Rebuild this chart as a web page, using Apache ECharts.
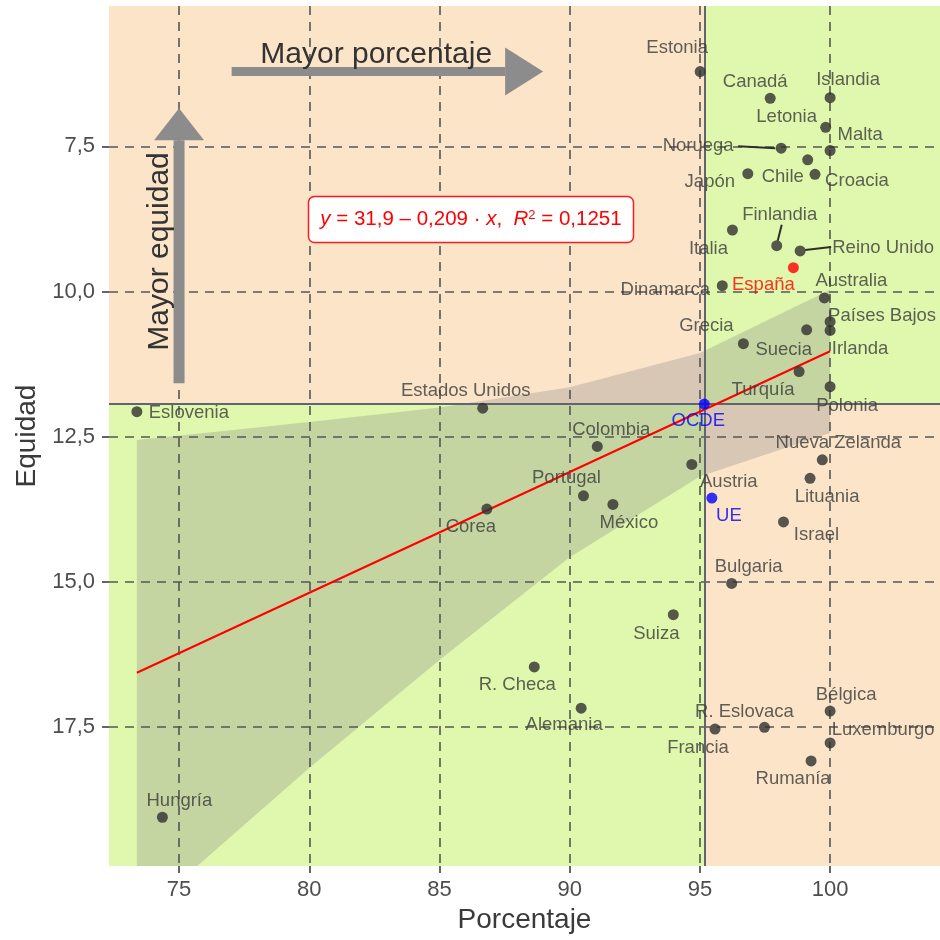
<!DOCTYPE html>
<html><head><meta charset="utf-8">
<script src="https://cdn.jsdelivr.net/npm/echarts@6/dist/echarts.min.js"></script>
<style>html,body{margin:0;padding:0;background:#fff}#c{width:940px;height:940px}</style>
</head><body><div id="c"></div>
<script>
// ---------- data ----------
const countries = ['Estonia','Canadá','Islandia','Letonia','Malta','Noruega','Chile','Croacia','Japón',
  'Finlandia','Italia','Reino Unido','España','Dinamarca','Australia','Países Bajos','Irlanda','Suecia',
  'Grecia','Turquía','Polonia','OCDE','Estados Unidos','Eslovenia','Colombia','Austria','Portugal',
  'México','Corea','UE','Nueva Zelanda','Lituania','Israel','Bulgaria','Suiza','R. Checa','Alemania',
  'R. Eslovaca','Francia','Bélgica','Luxemburgo','Rumanía','Hungría'];
const porcentaje = [95.01,97.70,100.0,99.83,100.0,98.12,99.14,99.42,96.84,
  97.95,96.25,98.85,98.59,95.86,99.78,100.0,100.0,99.10,
  96.67,98.81,100.0,95.17,86.66,73.38,91.06,94.69,90.53,
  91.66,86.82,95.46,99.70,99.23,98.21,96.22,93.98,88.64,90.44,
  97.48,95.58,100.0,100.0,99.27,74.36];
const equidad = [6.21,6.67,6.66,7.17,7.57,7.53,7.73,7.98,7.97,
  9.21,8.94,9.30,9.59,9.90,10.11,10.52,10.67,10.66,
  10.90,11.38,11.64,11.94,12.01,12.07,12.67,12.98,13.52,
  13.67,13.75,13.56,12.90,13.22,13.97,15.03,15.57,16.47,17.18,
  17.51,17.54,17.23,17.78,18.09,19.06];
const xTicks = [75,80,85,90,95,100];
const yTicks = [7.5,10,12.5,15,17.5];
// regression line
const regX = [73.38, 100];
const regY = [16.57, 11.03];
// confidence band
const bandX = [73.38, 75.7, 80, 85, 90, 95, 100];
const bandUpper = [12.56, 12.45, 12.25, 12.0, 11.65, 11.06, 9.97];
const bandLower = [20.6, 19.9, 18.21, 16.35, 14.58, 13.19, 12.44];
const refName = 'OCDE';
const equationText = '{i|y} = 31,9 – 0,209 · {i|x},  {i|R}{s|2} = 0,1251';
// ---------- style ----------
const X_MIN = 72.31, X_MAX = 104.22, Y_MIN = 5.08, Y_MAX = 19.9;
const labelOffsets = [[-23,-24],[-15,-16],[18,-18],[-39,-10],[30,-16],[-83,-2],[-25,17],[42,7],[-38,8],
  [3,-31],[-24,19],[83,-3],[-30,17],[-57,4],[27,-17],[52,-6],[30,19],[-23,20],
  [-37,-18],[-36,18],[17,19],[-6,17],[-17,-17],[52,1],[14,-17],[37,17],[-17,-18],
  [16,18],[-16,18],[17,18],[16,-17],[17,19],[33,13],[17,-16],[-17,19],[-17,18],[-17,17],
  [-20,-15],[-17,19],[16,-16],[53,-13],[-18,18],[17,-16]];
const specialColors = {'España':'#ff0000','OCDE':'#0000ff','UE':'#0000ff'};
const connectors = {'Noruega':[[-43,-2],[-6,0]],'Finlandia':[[5,-21],[1,-5]],'Reino Unido':[[5,-1],[31,-4]]};
const FONT = "'Liberation Sans', Arial, sans-serif";
const PEACH = '#fbe4c8', GREEN = '#dff8ad';
const SYM = 11;

const ocdeIdx = countries.indexOf(refName);
const ox = porcentaje[ocdeIdx], oy = equidad[ocdeIdx];

const chart = echarts.init(document.getElementById('c'), null, {renderer:'canvas'});

const points = countries.map((c,i)=>({
  name: c, value: [porcentaje[i], equidad[i]],
  itemStyle: {color: specialColors[c] || '#2f2f2f'},
  label: {show:true, formatter: c,
    position: [SYM/2 + labelOffsets[i][0], SYM/2 + labelOffsets[i][1]],
    color: specialColors[c] || '#3a3a3a', fontSize: 18.5, fontFamily: FONT,
    align:'center', verticalAlign:'middle'}
}));

const option = {
  animation: false,
  grid: {left:109, right:0, top:6, bottom:74, containLabel:false},
  xAxis: {
    type:'value', min:X_MIN, max:X_MAX,
    axisLine:{show:false}, splitLine:{show:false},
    axisTick:{show:true, customValues:xTicks, length:7, lineStyle:{color:'#333', width:1.5}},
    axisLabel:{customValues:xTicks, formatter:v=>String(v), fontSize:22, color:'#4d4d4d', fontFamily:FONT, margin:13},
    name:'Porcentaje', nameLocation:'middle', nameGap:38,
    nameTextStyle:{fontSize:28, color:'#3a3a3a', fontFamily:FONT}
  },
  yAxis: {
    type:'value', inverse:true, min:Y_MIN, max:Y_MAX,
    axisLine:{show:false}, splitLine:{show:false},
    axisTick:{show:true, customValues:yTicks, length:7, lineStyle:{color:'#333', width:1.5}},
    axisLabel:{customValues:yTicks, formatter:v=>v.toFixed(1).replace('.',','), fontSize:22, color:'#4d4d4d', fontFamily:FONT, margin:14},
    name:'Equidad', nameLocation:'middle', nameGap:68,
    nameTextStyle:{fontSize:28, color:'#3a3a3a', fontFamily:FONT}
  },
  series: [
    { type:'scatter', data:[], z:1, silent:true,
      markArea:{silent:true, data:[
        [{coord:[X_MIN,Y_MIN], itemStyle:{color:PEACH}}, {coord:[ox,oy]}],
        [{coord:[ox,Y_MIN], itemStyle:{color:GREEN}}, {coord:[X_MAX,oy]}],
        [{coord:[X_MIN,oy], itemStyle:{color:GREEN}}, {coord:[ox,Y_MAX]}],
        [{coord:[ox,oy], itemStyle:{color:PEACH}}, {coord:[X_MAX,Y_MAX]}]
      ]}
    },
    { type:'scatter', data:[], z:2, silent:true,
      markLine:{silent:true, symbol:['none','none'], label:{show:false},
        lineStyle:{color:'#555', width:1.6, type:[9,7]},
        data: xTicks.map(v=>({xAxis:v})).concat(yTicks.map(v=>({yAxis:v})))}
    },
    { type:'scatter', data:[], z:3, silent:true,
      markLine:{silent:true, symbol:['none','none'], label:{show:false},
        lineStyle:{color:'#62646e', width:2, type:'solid'},
        data:[{xAxis:ox},{yAxis:oy}]}
    },
    { type:'custom', z:4, silent:true, clip:true,
      data: [0],
      renderItem: (params, api) => {
        const pts = bandX.map((x,i)=>api.coord([x, bandUpper[i]]))
          .concat(bandX.map((x,i)=>api.coord([x, bandLower[i]])).reverse());
        const cs = params.coordSys;
        return {type:'polygon', shape:{points:pts},
          style:{fill:'rgba(140,140,140,0.32)'},
          clipPath:{type:'rect', shape:{x:cs.x, y:cs.y, width:cs.width, height:cs.height}}};
      }
    },
    { type:'line', z:5, silent:true, symbol:'none',
      data: regX.map((x,i)=>[x,regY[i]]), lineStyle:{color:'#ff0000', width:2} },
    { type:'scatter', z:6, symbolSize:SYM, data: points }
  ]
};
chart.setOption(option);

// ---------- annotations (data coordinates) ----------
const arrowH = {x0:77.02, x1:88.98, y:6.21};
const arrowV = {x:75.0, y0:11.58, y1:6.84};
const textH = {x:82.57, y:5.92, text:'Mayor porcentaje'};
const textV = {x:74.27, y:9.31, text:'Mayor equidad'};
const eqBox = {x:86.21, y:8.76};

const P = (x,y)=>chart.convertToPixel({gridIndex:0},[x,y]);
const ARROW = '#8c8c8c';
const g = [];
{
  const a = P(arrowH.x0, arrowH.y), b = P(arrowH.x1, arrowH.y);
  const hl = 38, hw = 24, t = 4.5;
  g.push({type:'rect', shape:{x:a[0], y:a[1]-t, width:(b[0]-hl)-a[0], height:2*t}, style:{fill:ARROW}, z:100});
  g.push({type:'polygon', shape:{points:[[b[0]-hl,b[1]-hw],[b[0],b[1]],[b[0]-hl,b[1]+hw]]}, style:{fill:ARROW}, z:100});
}
{
  const a = P(arrowV.x, arrowV.y0), b = P(arrowV.x, arrowV.y1);
  const hl = 32, hw = 25, t = 5.5;
  g.push({type:'rect', shape:{x:a[0]-t, y:b[1]+hl, width:2*t, height:a[1]-(b[1]+hl)}, style:{fill:ARROW}, z:100});
  g.push({type:'polygon', shape:{points:[[b[0]-hw,b[1]+hl],[b[0],b[1]],[b[0]+hw,b[1]+hl]]}, style:{fill:ARROW}, z:100});
}
{
  const p = P(textH.x, textH.y);
  g.push({type:'text', x:p[0], y:p[1], z:101, style:{text:textH.text, fontSize:30, fontFamily:FONT, fill:'#333', align:'center', verticalAlign:'middle'}});
  const q = P(textV.x, textV.y);
  g.push({type:'text', x:q[0], y:q[1], rotation:Math.PI/2, z:101, style:{text:textV.text, fontSize:30, fontFamily:FONT, fill:'#333', align:'center', verticalAlign:'middle'}});
}
{
  const p = P(eqBox.x, eqBox.y);
  g.push({type:'rect', z:102, shape:{x:p[0]-162.5, y:p[1]-23, width:325, height:46, r:6},
    style:{fill:'#ffffff', stroke:'#ff1a1a', lineWidth:1.5}});
  g.push({type:'text', z:103, x:p[0], y:p[1], style:{
    text: equationText,
    fontSize:20.5, fontFamily:FONT, fill:'#ff0000', align:'center', verticalAlign:'middle',
    rich:{
      i:{fontStyle:'italic', fontSize:20.5, fontFamily:FONT, fill:'#ff0000'},
      s:{fontSize:13, fontFamily:FONT, fill:'#ff0000', verticalAlign:'top'}
    }}});
}
countries.forEach((c,i)=>{
  if (!connectors[c]) return;
  const p = P(porcentaje[i], equidad[i]);
  const [s,e] = connectors[c];
  g.push({type:'line', shape:{x1:p[0]+s[0], y1:p[1]+s[1], x2:p[0]+e[0], y2:p[1]+e[1]}, style:{stroke:'#2f2f2f', lineWidth:2}, z:99});
});
chart.setOption({graphic: g});
</script>
</body></html>
